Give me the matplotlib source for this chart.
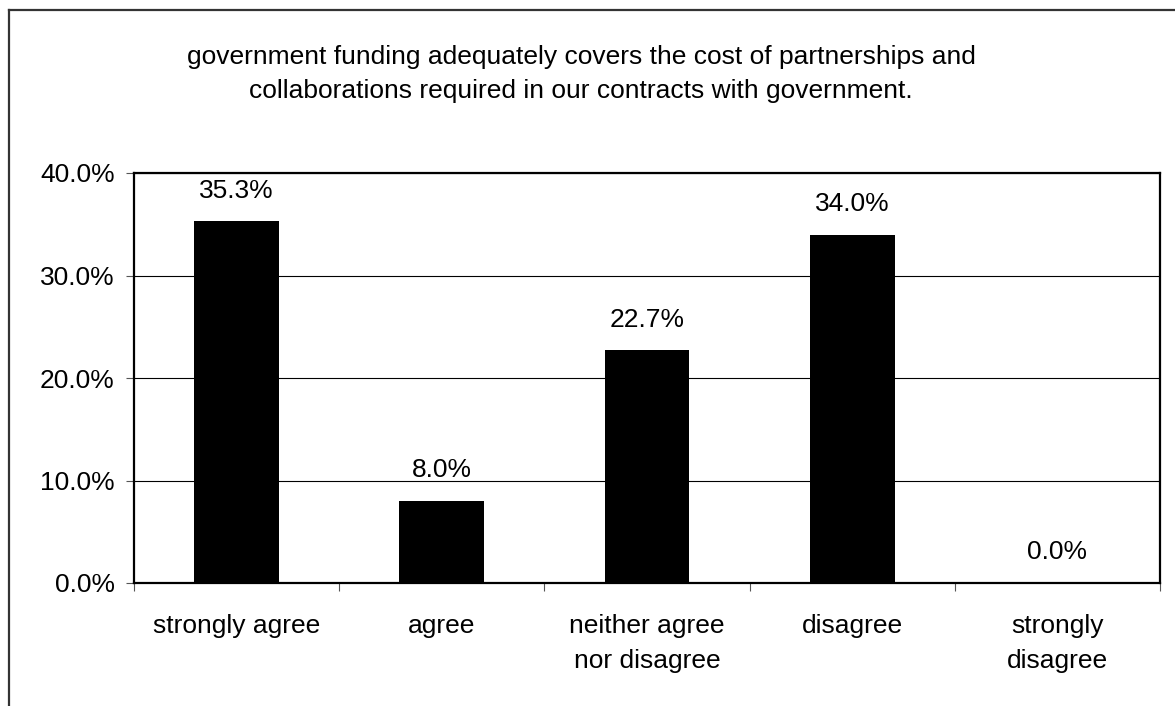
import matplotlib
matplotlib.use("Agg")
from matplotlib import pyplot as plt
from matplotlib.lines import Line2D
from matplotlib.ticker import FixedLocator, PercentFormatter
import numpy as np

# Survey responses
categories = ["strongly agree", "agree", "neither agree\nnor disagree", "disagree", "strongly\ndisagree"]
shares = [35.3, 8.0, 22.7, 34.0, 0.0]
value_labels = ["35.3%", "8.0%", "22.7%", "34.0%", "0.0%"]
title = ("government funding adequately covers the cost of partnerships and\n"
         "collaborations required in our contracts with government.")

plt.rcParams['font.family'] = ['Liberation Sans', 'DejaVu Sans']
FS = 19

fig = plt.figure(figsize=(11.75, 7.06), dpi=100)
ax = fig.add_axes([134/1175, 1 - 583/706, (1160 - 134)/1175, (583 - 173)/706])

x = np.arange(len(categories))
ax.bar(x, shares, width=0.414, color="black", zorder=3)

# value labels above bars
for xi, v, lab in zip(x, shares, value_labels):
    ax.annotate(lab, (xi, v), xytext=(0, 22), textcoords="offset points",
                ha="center", va="center", fontsize=FS)

ax.set_xlim(-0.5, len(categories) - 0.5)
ax.set_ylim(0, 40)
ax.set_yticks([0, 10, 20, 30, 40])
ax.yaxis.set_major_formatter(PercentFormatter(decimals=1))
ax.grid(axis="y", color="black", linewidth=0.8, zorder=0)

ax.set_xticks(x)
ax.set_xticklabels(categories, fontsize=FS, linespacing=1.58)
ax.xaxis.set_minor_locator(FixedLocator(np.arange(-0.5, len(categories), 1.0)))
ax.tick_params(axis="x", which="major", length=0, pad=22)
ax.tick_params(axis="x", which="minor", length=6, width=0.8, color="#555555", direction="out")
ax.tick_params(axis="y", length=6, width=0.8, color="#555555", pad=8, labelsize=FS)

for s in ax.spines.values():
    s.set_linewidth(1.6)
    s.set_color("black")

fig.text(581/1175, 1 - 74/706, title, ha="center", va="center", fontsize=FS, linespacing=1.56)

# outer chart border (cut by image edge at right and bottom)
bx = 8.5/1175
by = 1 - 9.5/706
fig.add_artist(Line2D([bx, 1.0], [by, by], color="#333333", linewidth=1.6))
fig.add_artist(Line2D([bx, bx], [by, 0.0], color="#333333", linewidth=1.6))

fig.savefig("out.png", dpi=100)
